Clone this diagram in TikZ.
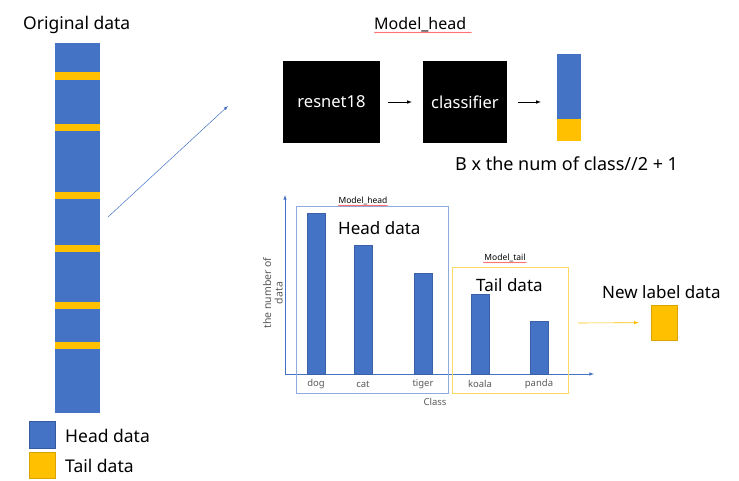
\documentclass[tikz,border=0pt]{standalone}
\usepackage{fontspec}
\setmainfont{Noto Sans}
\usetikzlibrary{positioning,decorations.pathmorphing}
\definecolor{headColor}{RGB}{68,114,196}
\definecolor{tailColor}{RGB}{255,192,0}
\definecolor{headFrame}{RGB}{143,170,220}
\definecolor{tailFrame}{RGB}{255,217,102}
\definecolor{axisText}{RGB}{89,89,89}
\tikzstyle{pixel} = [x = 1pt, y = -1pt]
\tikzstyle{bigText} = [inner sep=0pt, anchor=base west, font=\fontsize{17.5}{20}\selectfont]
\tikzstyle{largeText} = [inner sep=0pt, anchor=base west, font=\fontsize{17}{20}\selectfont]
\tikzstyle{smallText} = [inner sep=0pt, font=\fontsize{8.5}{10}\selectfont]
\tikzstyle{classText} = [inner sep=0pt, font=\fontsize{9.5}{11}\selectfont, text=axisText]
\tikzstyle{blackBox} = [fill=black, text=white, minimum width=97pt, minimum height=82pt, inner sep=0pt, font=\fontsize{16.5}{19}\selectfont]
\tikzstyle{barStyle} = [fill=headColor, draw=headColor!85!black, line width=.4pt]
\tikzstyle{flowArrow} = [black, line width=.6pt, -latex]
\tikzstyle{axisLine} = [color=headColor, line width=.6pt, -latex]
\tikzstyle{spellLine} = [red!85, line width=.3pt, decorate, decoration={snake, amplitude=.5pt, segment length=2pt}]
\newcommand{\classBar}[4]{
  \filldraw [barStyle] (#1,374) rectangle (#2,#3);
  \node [classText] (#4) at ({(#1+#2)/2},384) {#4};
}
\newcommand{\tailStripe}[2]{\fill [tailColor] (55,#1) rectangle (100,#2);}

\begin{document}
\begin{tikzpicture}[pixel]
  \useasboundingbox (0,0) rectangle (739,480);

  % original data column
  \node [bigText] (originalTitle) at (23,29) {Original data};
  \fill [headColor] (55,43) rectangle (100,413);
  \foreach \top/\bottom in {72/80, 124/131, 192/199, 245/252, 302/309, 342/349} {
    \tailStripe{\top}{\bottom}
  }
  \coordinate (columnOut) at (108,217);
  \coordinate (modelIn) at (228,106);
  \draw [headColor, line width=.5pt, -latex] (columnOut) -- (modelIn);

  % legend
  \filldraw [fill=headColor, draw=headColor!80!black] (29,421) rectangle (55,448);
  \filldraw [fill=tailColor, draw=tailColor!85!black] (29,452) rectangle (55,478);
  \node [bigText] (headLegend) at (65,442) {Head data};
  \node [bigText] (tailLegend) at (65,472) {Tail data};

  % model head
  \node [bigText, font=\fontsize{16}{19}\selectfont] (modelTitle) at (374,29) {Model\_head};
  \draw [spellLine] (374,32.5) -- (472,32.5);
  \node [blackBox] (resnet) at (331.5,102) {resnet18};
  \node [blackBox, minimum width=84pt] (classifier) at (465,102) {classifier};
  \node [fill=headColor, minimum width=24pt, minimum height=87pt, inner sep=0pt] (outBar) at (569,97.5) {};
  \fill [tailColor] (557,119) rectangle (581,141);
  \draw [flowArrow, shorten <=8pt, shorten >=11pt] (resnet) -- (classifier);
  \draw [flowArrow, shorten <=11pt, shorten >=16pt] (classifier.east) -- (classifier.east -| outBar.west);
  \node [bigText, font=\fontsize{18}{21}\selectfont] (outSize) at (455,170) {B x the num of class//2 + 1};

  % class histogram
  \coordinate (origin) at (285,374);
  \coordinate (yEnd) at (285,195);
  \coordinate (xEnd) at (594,374);
  \draw [axisLine] (origin) -- (yEnd);
  \draw [axisLine] (origin) -- (xEnd);
  \classBar{307}{325}{213}{dog}
  \classBar{354}{372}{245}{cat}
  \classBar{414}{432}{273}{tiger}
  \classBar{471}{489}{294}{koala}
  \classBar{530}{548}{321}{panda}
  \node [classText] (classLabel) at (435,402) {Class};
  \node [classText, rotate=90, align=center, font=\fontsize{10.5}{11.5}\selectfont] (countLabel) at (273,293) {the number of\\data};

  \draw [headFrame, line width=.6pt] (296,206) rectangle (448,393);
  \node [smallText] (headModelLabel) at (363,201) {Model\_head};
  \draw [spellLine, line width=.25pt] (338,205.5) -- (388,205.5);
  \node [largeText] (headText) at (338,234) {Head data};

  \draw [tailFrame, line width=.6pt] (452,267) rectangle (568,393);
  \node [smallText] (tailModelLabel) at (505,258) {Model\_tail};
  \draw [spellLine, line width=.25pt] (483,262.5) -- (527,262.5);
  \node [largeText] (tailText) at (476,291) {Tail data};

  % new label
  \node [largeText] (newLabelText) at (602,298) {New label data};
  \node [fill=tailColor, draw=tailColor!85!black, minimum width=26pt, minimum height=35pt, inner sep=0pt] (newLabel) at (664,322.5) {};
  \coordinate (tailOut) at (578,323);
  \draw [tailColor, line width=.6pt, -latex, shorten >=12pt] (tailOut) -- (newLabel);
\end{tikzpicture}
\end{document}
